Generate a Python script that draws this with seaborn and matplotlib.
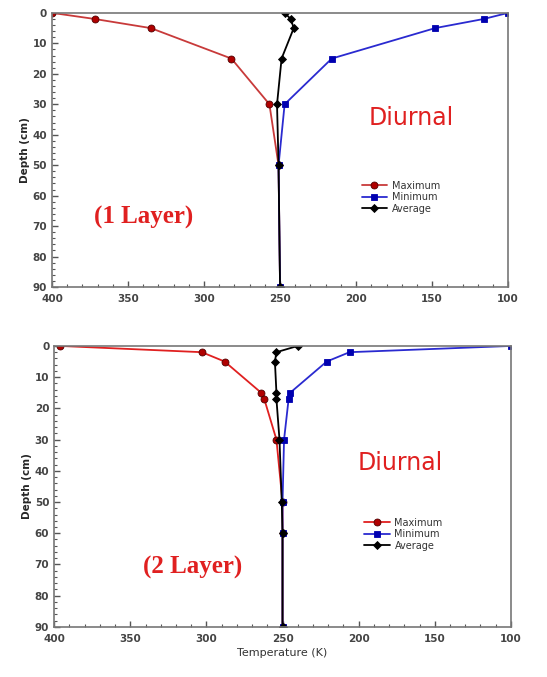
import numpy as np
import pandas as pd
import seaborn as sns
import matplotlib.pyplot as plt
from matplotlib.ticker import MultipleLocator

# depth profiles
depth_1 = [0, 2, 5, 15, 30, 50, 90]
max_1 = [400, 372, 335, 282, 257, 251, 250]
min_1 = [100, 116, 148, 216, 247, 251, 250]
avg_1 = [247, 243, 241, 249, 252, 251, 250]

depth_2 = [0, 2, 5, 15, 17, 30, 50, 60, 90]
max_2 = [396, 303, 288, 264, 262, 254, 250, 250, 250]
min_2 = [100, 206, 221, 245, 246, 249, 250, 250, 250]
avg_2 = [240, 254, 255, 254, 254, 252, 250.5, 250, 250]

series_names = ['Maximum', 'Minimum', 'Average']
line_colors = ['#c83a3a', '#2a2ad0', 'black']
marker_colors = ['#b00000', '#0000b0', 'black']
markers = ['o', 's', 'D']

sns.set_style('white')
plt.rcParams['xtick.bottom'] = True
plt.rcParams['ytick.left'] = True

fig = plt.figure(figsize=(5.47, 6.77), dpi=100)
ax1 = fig.add_axes([0.095, 0.576, 0.834, 0.405])
ax2 = fig.add_axes([0.099, 0.074, 0.835, 0.415])

panels = [
    (ax1, depth_1, [max_1, min_1, avg_1], (340, 67), (164, 34.5), '(1 Layer)', '#c83a3a'),
    (ax2, depth_2, [max_2, min_2, avg_2], (309, 71), (173, 37.5), '(2 Layer)', '#e02020'),
]

for ax, depth, profiles, lay_pos, diu_pos, lay_txt, max_line in panels:
    for i, (name, temps) in enumerate(zip(series_names, profiles)):
        df = pd.DataFrame({'temp': temps, 'depth': depth})
        lc = max_line if i == 0 else line_colors[i]
        sns.lineplot(data=df, x='temp', y='depth', sort=False, estimator=None,
                     ax=ax, color=lc, lw=1.3, marker=markers[i],
                     markersize=5 if i == 0 else 4.5,
                     markerfacecolor=marker_colors[i],
                     markeredgecolor='#500000' if i == 0 else marker_colors[i],
                     markeredgewidth=0.6, label=name)
    ax.set_xlim(400, 100)
    ax.set_ylim(90, 0)
    ax.xaxis.set_major_locator(MultipleLocator(50))
    ax.xaxis.set_minor_locator(MultipleLocator(10))
    ax.yaxis.set_major_locator(MultipleLocator(10))
    ax.yaxis.set_minor_locator(MultipleLocator(2))
    ax.tick_params(which='both', direction='in', color='#555555',
                   labelsize=7.5, labelcolor='#444444',
                   bottom=True, left=True, top=False, right=False)
    ax.tick_params(which='major', length=4, width=1)
    ax.tick_params(which='minor', length=2, width=0.8)
    ax.tick_params(axis='x', pad=5)
    for lab in ax.get_xticklabels() + ax.get_yticklabels():
        lab.set_fontweight('bold')
    for sp in ax.spines.values():
        sp.set_color('#777777')
        sp.set_linewidth(1.2)
    ax.set_ylabel('Depth (cm)', fontsize=7.5, fontweight='bold', labelpad=2)
    ax.set_xlabel('')
    ax.legend(loc='upper left', bbox_to_anchor=(0.66, 0.42), frameon=False,
              fontsize=7, handlelength=2.6, labelspacing=0.15,
              handletextpad=0.5, labelcolor='#333333')
    ax.text(*diu_pos, 'Diurnal', color='#e02020', fontsize=17,
            ha='center', va='center', family='DejaVu Sans')
    ax.text(*lay_pos, lay_txt, color='#e02020', fontsize=18, fontweight='bold',
            ha='center', va='center', family='Liberation Serif')

ax2.set_xlabel('Temperature (K)', fontsize=8, color='#333333', labelpad=3)

fig.savefig('out.png', dpi=100)
